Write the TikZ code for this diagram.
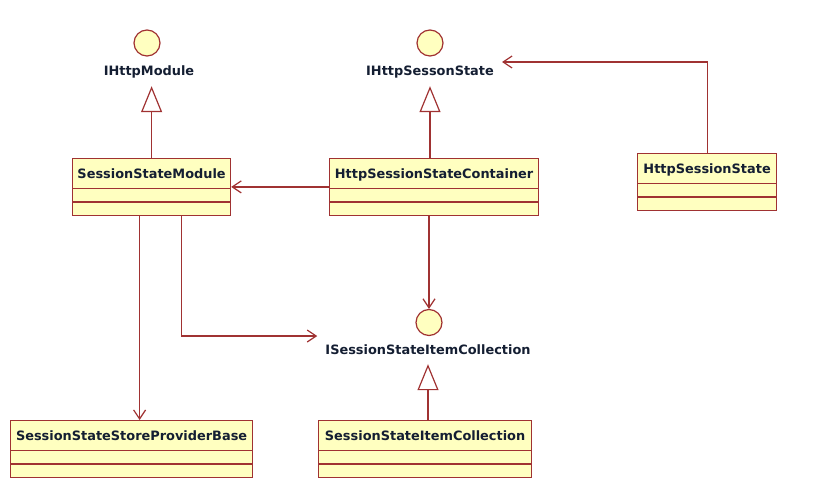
\documentclass[tikz,border=0pt]{standalone}
\usepackage{fontspec}
\setmainfont{DejaVu Sans}
\usetikzlibrary{shapes.multipart,arrows.meta}
\definecolor{umlline}{RGB}{160,50,50}
\definecolor{umlfill}{RGB}{255,255,192}
\definecolor{umltext}{RGB}{20,30,50}
\newcommand{\clsstrut}{\rule[-9.8pt]{0pt}{29pt}}

\begin{document}
\begin{tikzpicture}[x=1pt,y=-1pt]
  \tikzstyle{umlclass}=[rectangle split, rectangle split parts=3, draw=umlline, fill=umlfill, line width=1.2pt,
    inner ysep=0pt, inner xsep=4pt, rectangle split empty part height=12pt, rectangle split empty part depth=0pt,
    font=\fontsize{12.9}{15}\selectfont\bfseries, text=umltext, execute at begin node=\clsstrut, anchor=north west]
  \tikzstyle{iface}=[circle, draw=umlline, fill=umlfill, line width=1.2pt, minimum size=26pt, inner sep=0pt]
  \tikzstyle{ifname}=[font=\fontsize{12.9}{15}\selectfont\bfseries, text=umltext, text height=10pt, text depth=0pt,
    inner ysep=10pt, inner xsep=8pt]
  \tikzstyle{assoc}=[draw=umlline, line width=1.2pt, -{Straight Barb[length=9pt,width=12pt]}]
  \tikzstyle{realize}=[draw=umlline, line width=1.2pt, -{Triangle[open,length=26pt,width=21pt,fill=white]}]
  \useasboundingbox (0,0) rectangle (819,492);

  % interfaces
  \node[iface] (ihmC) at (147,43) {};
  \node[ifname] (ihm) at (149,71) {IHttpModule};
  \node[iface] (ihsC) at (430,43) {};
  \node[ifname] (ihs) at (430,71) {IHttpSessonState};
  \node[iface] (iscC) at (429,322.5) {};
  \node[ifname] (isc) at (428,349) {ISessionStateItemCollection};

  % classes
  \node[umlclass, minimum width=158pt] (ssm) at (72,158) {SessionStateModule};
  \node[umlclass, minimum width=209pt] (hsc) at (329,158) {HttpSessionStateContainer};
  \node[umlclass, minimum width=139pt] (hss) at (637,153) {HttpSessionState};
  \node[umlclass, minimum width=242pt] (sspb) at (10,420) {SessionStateStoreProviderBase};
  \node[umlclass, minimum width=213pt] (ssic) at (318,420) {SessionStateItemCollection};

  % realizations
  \draw[realize] (ssm.north) -- (ssm.north |- ihm.south);
  \draw[realize] (hsc.north -| ihs) -- (ihs.south);
  \draw[realize] (ssic.north -| isc) -- (isc.south);

  % associations
  \draw[assoc] (hss.north) |- ([yshift=9pt]ihs.east);
  \draw[assoc] (hsc.west) -- (ssm.east);
  \draw[assoc] (hsc.south -| iscC) -- (iscC.north);
  \draw[assoc] ([xshift=-12pt]ssm.south) -- ([xshift=-12pt]ssm.south |- sspb.north);
  \draw[assoc] ([xshift=30pt]ssm.south) |- ([yshift=13pt]isc.west);
\end{tikzpicture}
\end{document}
